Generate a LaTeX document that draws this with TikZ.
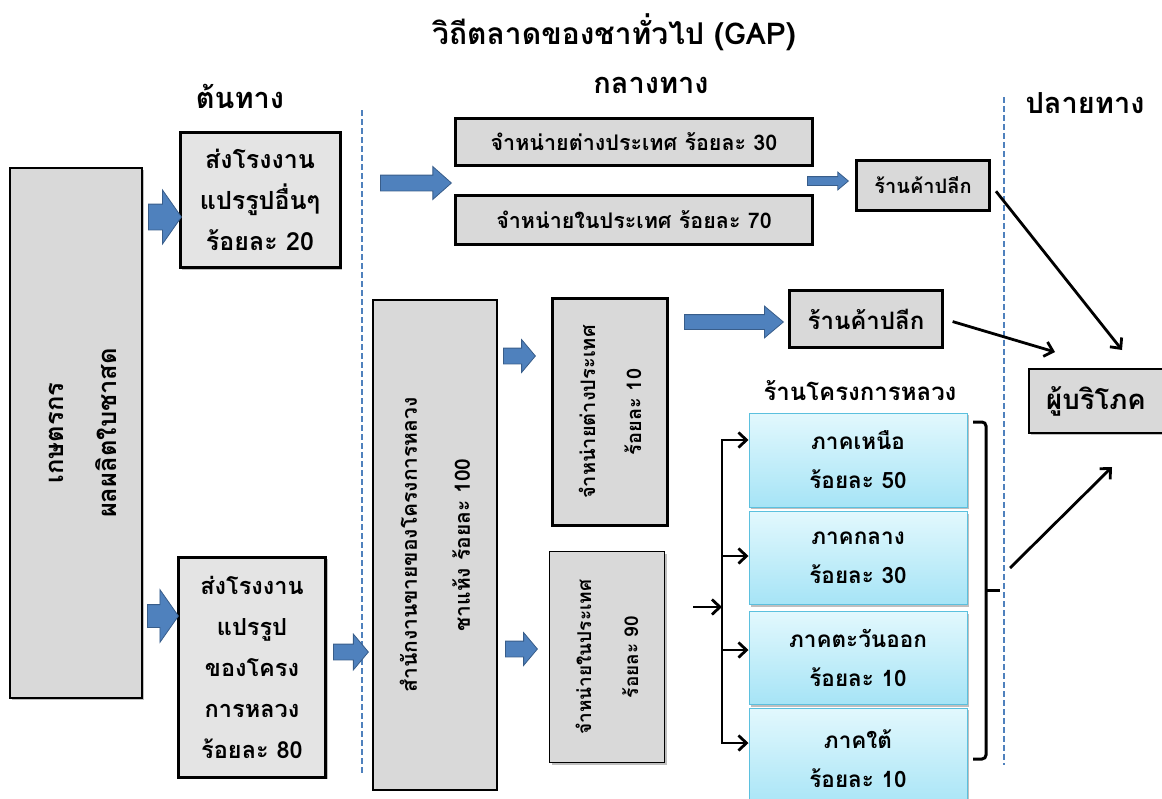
\documentclass[tikz,border=0pt]{standalone}
\usepackage{fontspec}
\setmainfont[Script=Thai]{Loma}
\usetikzlibrary{arrows.meta, positioning, shapes.arrows, shadows}

\definecolor{boxgray}{HTML}{D9D9D9}
\definecolor{palegray}{HTML}{E4E4E4}
\definecolor{arrowblue}{HTML}{4F81BD}
\definecolor{arrowedge}{HTML}{385D8A}
\definecolor{cyanedge}{HTML}{5BC0DE}
\definecolor{cyantop}{HTML}{E2F8FD}
\definecolor{cyanbottom}{HTML}{A6E4F6}

\newcommand{\txtsize}[2]{\fontsize{#1}{#2}\selectfont\bfseries}

\tikzset{
  heading/.style={font=\txtsize{29}{32}},
  graybox/.style={draw, line width=1.2pt, fill=boxgray, align=center, inner sep=0pt},
  thickbox/.style={graybox, line width=3pt},
  shadowed/.style={drop shadow={shadow xshift=2pt, shadow yshift=-2pt, fill=gray, opacity=.5}},
  bluebox/.style={draw=cyanedge, line width=1pt, top color=cyantop, bottom color=cyanbottom,
    minimum width=218pt, align=center, inner sep=0pt, font=\txtsize{22.5}{39}, shadowed},
  % length / half shaft / head extend / tip angle
  blockarrow/.style n args={4}{single arrow, draw=arrowedge, fill=arrowblue, line width=.8pt,
    inner xsep=0pt, inner ysep=#2, minimum height=#1, minimum width=0pt,
    single arrow head extend=#3, single arrow tip angle=#4, anchor=tail},
  conarrow/.style={line width=2.8pt, -{Straight Barb[length=8pt, width=15pt]}},
  divider/.style={arrowblue, dash pattern=on 6pt off 3pt, line width=1.2pt}
}

\begin{document}
\begin{tikzpicture}[x=1pt, y=-1pt]
  \useasboundingbox (0,0) rectangle (1162,798);

  % headings
  \node[font=\txtsize{30}{34}] (title) at (614,32) {วิถีตลาดของชาทั่วไป (GAP)};
  \node[heading] (origin) at (240,96) {ต้นทาง};
  \node[heading] (midway) at (651,85) {กลางทาง};
  \node[heading] (destination) at (1085,103) {ปลายทาง};

  \draw[divider] (362,110) -- (362,775);
  \draw[divider] (1004,97) -- (1004,765);

  % upstream
  \node[graybox, shadowed, minimum width=132pt, minimum height=530pt] (farmer) at (76,433) {};
  \node[rotate=90, align=center, font=\txtsize{25.5}{53}] (farmertext) at (83,433)
    {เกษตรกร\\ผลผลิตใบชาสด};
  \node[thickbox, shadowed, fill=palegray, minimum width=160pt, minimum height=135pt,
    font=\txtsize{25}{41}] (other) at (260,200) {ส่งโรงงาน\\แปรรูปอื่นๆ\\ร้อยละ 20};
  \node[thickbox, shadowed, fill=palegray, minimum width=147pt, minimum height=220pt,
    font=\txtsize{23.5}{41}] (royal) at (252,667)
    {ส่งโรงงาน\\แปรรูป\\ของโครง\\การหลวง\\ร้อยละ 80};
  \node[blockarrow={33pt}{12.5pt}{14pt}{110}] (toother) at (148,217) {};
  \node[blockarrow={31pt}{11pt}{15pt}{110}] (toroyal) at (147,616) {};

  % general tea
  \node[blockarrow={71pt}{7.5pt}{8.5pt}{83}] (tosale) at (380,183) {};
  \node[thickbox, minimum width=357pt, minimum height=47pt, font=\txtsize{21.5}{24}]
    (export30) at (634,142) {จำหน่ายต่างประเทศ ร้อยละ 30};
  \node[thickbox, minimum width=357pt, minimum height=49pt, font=\txtsize{21.5}{24}]
    (domestic70) at (634,220) {จำหน่ายในประเทศ ร้อยละ 70};
  \node[blockarrow={41pt}{4pt}{4.5pt}{80}] (toshopa) at (807,181) {};
  \node[thickbox, minimum width=133pt, minimum height=50pt, font=\txtsize{20}{24}]
    (shopa) at (923,185) {ร้านค้าปลีก};

  % royal project tea
  \node[blockarrow={35pt}{7.5pt}{10pt}{100}] (tooffice) at (333,652) {};
  \node[graybox, rotate=90, minimum width=490pt, minimum height=124pt,
    font=\txtsize{21}{53}] (office) at (435,545)
    {สำนักงานขายของโครงการหลวง\\ชาแห้ง ร้อยละ 100};
  \node[blockarrow={32pt}{7.5pt}{8.5pt}{100}] (toexport) at (503,356) {};
  \node[blockarrow={32pt}{7.5pt}{8.5pt}{100}] (todomestic) at (505,649) {};
  \node[thickbox, rotate=90, minimum width=227pt, minimum height=115pt,
    font=\txtsize{20}{46}] (export10) at (610,412) {จำหน่ายต่างประเทศ\\ร้อยละ 10};
  \node[graybox, shadowed, rotate=90, minimum width=211pt, minimum height=115pt,
    font=\txtsize{19}{47}] (domestic90) at (607,657) {จำหน่ายในประเทศ\\ร้อยละ 90};
  \node[blockarrow={99pt}{7pt}{8.5pt}{80}] (toshopb) at (684,322) {};
  \node[thickbox, minimum width=153pt, minimum height=57pt, font=\txtsize{24}{28}]
    (shopb) at (866,319) {ร้านค้าปลีก};

  \node[font=\txtsize{24}{28}] (shops) at (860,391) {ร้านโครงการหลวง};
  \node[bluebox, minimum height=94pt] (north) at (858,460) {ภาคเหนือ\\ร้อยละ 50};
  \node[bluebox, minimum height=93pt] (central) at (858,558) {ภาคกลาง\\ร้อยละ 30};
  \node[bluebox, minimum height=93pt] (east) at (858,658) {ภาคตะวันออก\\ร้อยละ 10};
  \node[bluebox, minimum height=102pt] (south) at (858,759) {ภาคใต้\\ร้อยละ 10};

  \coordinate (feed) at (693,607);
  \coordinate (fork) at (722,607);
  \draw[conarrow] (feed) -- (fork);
  \draw[line width=2.8pt, line cap=rect] (fork |- 0,440) -- (fork |- 0,743);
  \foreach \reg/\yy in {north/440, central/556, east/650, south/743}
    \draw[conarrow] (fork |- 0,\yy) -- (\reg.west |- 0,\yy);

  \draw[line width=3pt, rounded corners=4pt] (973,422) -- (986,422) -- (986,759) -- (973,759);
  \draw[line width=3pt] (986,590) -- (1000,590);

  % downstream
  \node[graybox, shadowed, minimum width=134pt, minimum height=64pt, font=\txtsize{27.5}{30}]
    (consumer) at (1096,401) {ผู้บริโภค};

  \coordinate (enda) at (1122,350);
  \coordinate (endb) at (1055,352);
  \coordinate (startc) at (1010,568);
  \coordinate (endc) at (1112,467);
  \draw[conarrow, shorten <=8pt] (shopa.east) -- (enda);
  \draw[conarrow, shorten <=9pt] (shopb.east) -- (endb);
  \draw[conarrow] (startc) -- (endc);
\end{tikzpicture}
\end{document}
